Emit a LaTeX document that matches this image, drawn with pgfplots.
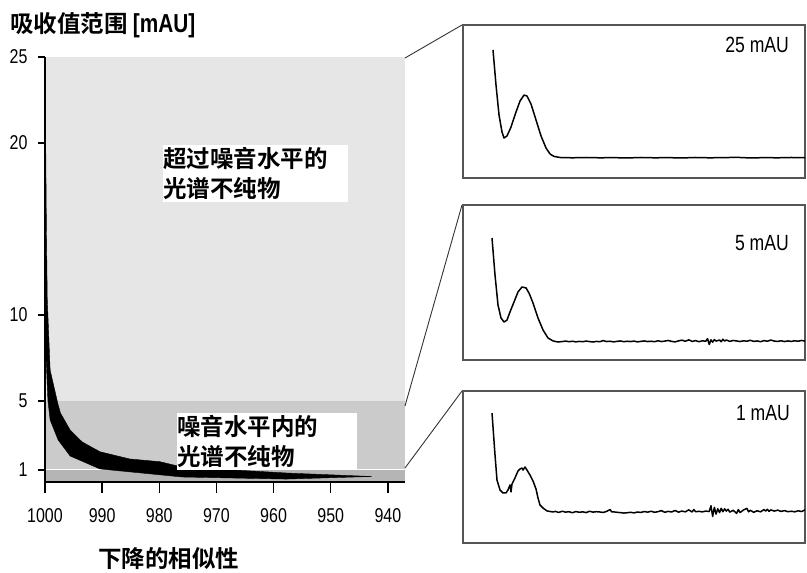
\documentclass[border=0pt]{standalone}
\usepackage{pgfplots}
\pgfplotsset{compat=1.18}
\usepackage{fontspec}
\setmainfont{Liberation Sans}[FakeStretch=0.8]
\newfontfamily\cjk{Noto Sans CJK SC}[BoldFont={Noto Sans CJK SC Bold}]
\definecolor{bandhi}{HTML}{E6E6E6}
\definecolor{bandmid}{HTML}{CBCBCB}
\definecolor{bandlow}{HTML}{B5B5B5}
\definecolor{frame}{HTML}{555555}

\pgfplotsset{
  spectrum/.style={
    scale only axis, width=342bp,
    xmin=0, xmax=100, ymin=0, ymax=100,
    xtick=\empty, ytick=\empty,
    axis line style={frame, line width=1.4bp},
    clip=true,
  },
  trace/.style={black, line width=1.5bp, line join=round, no markers},
}

\begin{document}
\begin{tikzpicture}
\useasboundingbox (0bp,0bp) rectangle (807bp,573bp);

% ---- main panel: absorbance range vs. similarity ----
\begin{axis}[
  at={(45bp,91bp)}, anchor=south west,
  scale only axis, width=360bp, height=425bp,
  xmin=937, xmax=1000, x dir=reverse,
  ymin=0.3, ymax=25,
  axis x line*=bottom, axis y line*=left,
  axis line style={-, line width=1.5bp},
  y axis line style={line width=2.2bp},
  xtick={1000,990,980,970,960,950,940},
  xticklabels={1000,990,980,970,960,950,940},
  ytick={1,5,10,20,25},
  tick align=outside,
  major tick length=7bp,
  tick style={black, line width=1.4bp},
  /pgf/number format/assume math mode=true,
  tick label style={font=\fontsize{20bp}{22bp}\selectfont},
  xticklabel style={yshift=-16bp},
  yticklabel style={xshift=-7bp},
  clip=false,
  axis on top,
]
% background zones
\addplot[fill=bandhi, draw=none] coordinates {(1000,5) (937,5) (937,25) (1000,25)} -- cycle;
\addplot[fill=bandmid, draw=none] coordinates {(1000,1) (937,1) (937,5) (1000,5)} -- cycle;
\addplot[fill=bandlow, draw=none] coordinates {(1000,0.3) (937,0.3) (937,1) (1000,1)} -- cycle;
\addplot[white, line width=1bp] coordinates {(1000,1) (937,1)};
% spread of similarity values
\addplot[fill=black, draw=black, line width=0.4bp] coordinates {
  (1000,25) (999.75,15) (999.6,10.9) (999.1,6.8) (997.7,4.78) (997.3,4.31)
  (995.6,3.32) (993.5,2.63) (990.4,2.06) (985.2,1.64) (979.9,1.48)
  (976.0,1.17) (957.6,0.82) (942.8,0.62)
  (957.8,0.47) (976.0,0.59) (990.4,1.06) (995.6,1.81) (997.7,2.74)
  (999.1,3.9) (999.5,5.07) (1000,9)
} -- cycle;
% tick marks: short on the value axis, longer on the similarity axis
\pgfplotsinvokeforeach{1,5,10,20,25}{
  \draw[black, line width=1.4bp] (axis cs:1000,#1) -- ++(-7bp,0bp);
}
\pgfplotsinvokeforeach{1000,990,980,970,960,950,940}{
  \draw[black, line width=1.4bp] (axis cs:#1,0.3) -- ++(0bp,-11bp);
}
\end{axis}

\begin{scope}[x=1bp, y=1bp]
% zone labels
\node[fill=white, anchor=north west, inner xsep=0pt, inner ysep=2bp,
      text width=185bp, align=left,
      font=\cjk\bfseries\fontsize{23.5bp}{30bp}\selectfont]
  at (163,428) {超过噪音水平的\\光谱不纯物};
\node[fill=white, anchor=north west, inner xsep=0pt, inner ysep=2bp,
      text width=180bp, align=left,
      font=\cjk\bfseries\fontsize{23.5bp}{30bp}\selectfont]
  at (177,160) {噪音水平内的\\光谱不纯物};

% axis titles
\node[anchor=base west, inner sep=0pt, font=\bfseries\fontsize{23.5bp}{26bp}\selectfont]
  at (10,540) {{\cjk 吸收值范围} {\fontsize{26bp}{28bp}\selectfont[mAU]}};
\node[anchor=base, inner sep=0pt, font=\cjk\bfseries\fontsize{23.5bp}{26bp}\selectfont]
  at (169,6) {下降的相似性};

% connectors to the example spectra
\draw[black!80, line width=0.9bp] (405,515) -- (462,548);
\draw[black!80, line width=0.9bp] (405,167) -- (462,368);
\draw[black!80, line width=0.9bp] (405,105) -- (462,182);
\end{scope}

% ---- 25 mAU spectrum ----
\begin{axis}[spectrum, at={(463bp,395bp)}, anchor=south west, height=153bp]
\addplot[trace] coordinates {
  (8.77,83.7) (9.65,60.8) (10.53,41.2) (11.40,30.1) (11.99,26.1) (12.87,27.5)
  (14.04,33.3) (15.50,43.1) (16.67,50.3) (17.84,54.2) (18.71,53.6) (19.88,48.4)
  (21.35,37.9) (22.81,27.5) (24.27,19.6) (25.44,15.7) (26.61,14.1) (28.36,13.4)
  (32,13.2) (36,13.4) (40,13.2) (44,13.3) (48,13.1) (52,13.4) (56,13.2) (60,13.3)
  (64,13.1) (68,13.4) (72,13.2) (76,13.3) (80,13.5) (84,13.1) (88,13.3) (92,13.2)
  (96,13.4) (100,13.3)
};
\node[font=\fontsize{22bp}{24bp}\selectfont] at (axis description cs:0.86,0.87) {25 mAU};
\end{axis}

% ---- 5 mAU spectrum ----
\begin{axis}[spectrum, at={(463bp,213bp)}, anchor=south west, height=155bp]
\addplot[trace] coordinates {
  (8.48,78.7) (9.36,54.8) (10.23,35.5) (11.11,27.1) (11.99,24.5) (12.87,25.8)
  (13.74,31.0) (14.91,37.4) (16.08,43.9) (17.25,47.1) (18.42,46.5) (19.30,43.2)
  (20.47,36.8) (21.93,27.1) (23.39,19.4) (24.85,14.2) (26.32,12.3) (27.78,11.6)
  (29,11.9) (30,12.2) (31,11.8) (32,12.1) (33,11.7) (34,12.0) (35,11.8) (36,12.2)
  (37,11.9) (38,11.6) (39,12.0) (40,11.8) (41,12.5) (42,11.9) (43,12.1) (44,11.7)
  (45,12.0) (46,12.3) (47,11.8) (48,12.1) (49,11.9) (50,12.2) (51,11.7) (52,12.0)
  (53,12.3) (54,11.9) (55,12.1) (56,11.8) (57,12.4) (58,11.9) (59,12.2) (60,12.6)
  (61,12.0) (62,11.7) (63,12.3) (64,12.8) (65,12.1) (66,13.0) (67,12.0) (68,12.5)
  (69,11.8) (70,12.4) (71,12.1) (71.5,13.8) (72,10.0) (72.5,13.0) (73,11.5)
  (73.5,13.2) (74,12.2) (75,12.9) (75.5,11.8) (76,13.4) (76.5,12.2) (77,12.9)
  (78,12.0) (79,12.6) (80,12.3) (81,11.9) (82,12.4) (83,12.1) (84,12.7) (85,12.0)
  (86,12.3) (87,11.8) (88,12.5) (89,12.1) (90,12.9) (91,12.2) (92,12.0) (93,12.4)
  (94,11.9) (95,12.3) (96,12.0) (97,12.4) (98,12.1) (99,12.6) (100,12.2)
};
\node[font=\fontsize{22bp}{24bp}\selectfont] at (axis description cs:0.874,0.755) {5 mAU};
\end{axis}

% ---- 1 mAU spectrum ----
\begin{axis}[spectrum, at={(463bp,30bp)}, anchor=south west, height=152bp]
\addplot[trace] coordinates {
  (8.48,85.5) (9.36,57.9) (9.94,41.4) (10.82,34.9) (11.70,32.9) (12.57,32.9)
  (13.16,34.9) (13.74,38.2) (14.04,33.6) (14.33,38.8) (15.20,42.8) (16.08,47.4)
  (16.67,48.7) (17.25,49.3) (17.54,48.0) (18.13,50.0) (18.71,48.0) (19.59,44.7)
  (20.47,40.8) (21.35,35.5) (21.93,29.6) (22.51,25.0) (23.39,23.0) (24.56,21.1)
  (26.32,20.4) (27,20.8) (28,20.1) (29,20.9) (30,20.3) (31,20.6) (32,19.9) (33,20.7)
  (34,20.2) (35,20.5) (36,20.0) (37,20.9) (38,20.3) (39,20.6) (40,20.4) (41,20.1)
  (42,20.8) (43,22.0) (43.5,20.4) (44,20.5) (45,20.2) (46,20.0) (47,19.7) (48,19.9)
  (49,20.2) (50,19.8) (51,20.4) (52,20.1) (53,20.7) (54,20.3) (55,20.9) (56,20.2)
  (57,20.6) (58,21.3) (59,20.2) (60,20.8) (61,20.4) (62,21.4) (63,20.3) (64,21.0)
  (65,20.5) (66,21.8) (67,20.4) (67.5,22.0) (68,20.6) (69,20.8) (70,20.5) (71,21.0)
  (72,20.7) (72.5,24.5) (73,17.5) (73.5,23.5) (74,19.0) (74.5,22.5) (75,20.0)
  (75.5,22.8) (76,20.6) (76.5,22.5) (77,21.0) (77.5,22.2) (78,20.3) (79,21.5)
  (80,19.5) (80.5,22.0) (81,20.0) (82,21.7) (83,22.8) (83.5,20.5) (84,21.5)
  (85,20.2) (86,21.2) (87,20.5) (88,22.0) (88.5,21.0) (89,22.2) (89.5,20.8)
  (90,21.8) (91,21.0) (92,21.6) (93,20.8) (94,21.3) (95,20.6) (96,20.9) (97,20.5)
  (98,21.2) (99,20.7) (100,21.8)
};
\node[font=\fontsize{22bp}{24bp}\selectfont] at (axis description cs:0.877,0.855) {1 mAU};
\end{axis}
\end{tikzpicture}
\end{document}
